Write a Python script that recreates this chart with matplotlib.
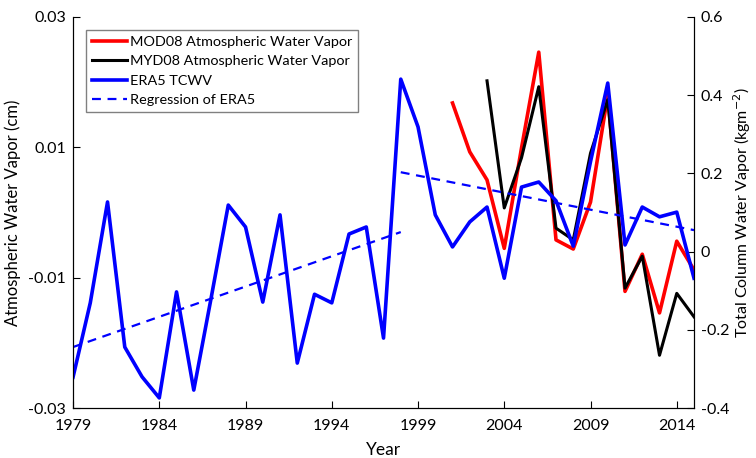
import matplotlib
matplotlib.use("Agg")
from matplotlib import pyplot as plt

plt.rcParams['font.family'] = ['Lato', 'DejaVu Sans']

# ERA5 TCWV anomaly (right axis)
era5_years = list(range(1979, 2016))
era5_vals = [-0.321, -0.131, 0.127, -0.244, -0.320, -0.374, -0.103, -0.354, -0.120, 0.119,
             0.063, -0.129, 0.094, -0.285, -0.109, -0.131, 0.045, 0.063, -0.221, 0.441,
             0.319, 0.094, 0.012, 0.076, 0.114, -0.068, 0.165, 0.178, 0.130, 0.014,
             0.230, 0.431, 0.017, 0.114, 0.089, 0.101, -0.068]

# regression segments of ERA5 (right axis)
reg1_years = [1979, 1998]
reg1_vals = [-0.244, 0.050]
reg2_years = [1998, 2015]
reg2_vals = [0.203, 0.055]

# MODIS (left axis, cm)
mod_years = list(range(2001, 2016))
mod_vals = [0.0168, 0.0093, 0.0050, -0.0055, 0.0099, 0.0246, -0.0042, -0.0056,
            0.0016, 0.0180, -0.0121, -0.0064, -0.0154, -0.0044, -0.0088]
myd_years = list(range(2003, 2016))
myd_vals = [0.0202, 0.0007, 0.0084, 0.0193, -0.0024, -0.0042, 0.0091, 0.0173,
            -0.0116, -0.0067, -0.0219, -0.0124, -0.0160]

xticks = [1979, 1984, 1989, 1994, 1999, 2004, 2009, 2014]

fig = plt.figure(figsize=(7.56, 4.58), dpi=100)
ax = fig.add_axes([0.0966, 0.109, 0.8214, 0.854])
ax2 = ax.twinx()

l1, = ax.plot(mod_years, mod_vals, color="red", lw=2.6, label="MOD08 Atmospheric Water Vapor")
l2, = ax.plot(myd_years, myd_vals, color="black", lw=2.2, label="MYD08 Atmospheric Water Vapor")
l3, = ax2.plot(era5_years, era5_vals, color="blue", lw=2.6, label="ERA5 TCWV")
l4, = ax2.plot(reg1_years, reg1_vals, color="blue", lw=1.6, ls=(0, (4, 3)), label="Regression of ERA5")
ax2.plot(reg2_years, reg2_vals, color="blue", lw=1.6, ls=(0, (4, 3)))

ax.set_xlim(1979, 2015)
ax.set_ylim(-0.03, 0.03)
ax.set_yticks([-0.03, -0.01, 0.01, 0.03])
ax.set_yticklabels(["-0.03", "-0.01", "0.01", "0.03"])
ax.set_xticks(xticks)
ax2.set_ylim(-0.4, 0.6)
ax2.set_yticks([-0.4, -0.2, 0, 0.2, 0.4, 0.6])
ax2.set_yticklabels(["-0.4", "-0.2", "0", "0.2", "0.4", "0.6"])

for a in (ax, ax2):
    a.spines['top'].set_visible(False)
    a.tick_params(direction="in", labelsize=11.5, length=5, pad=5)
ax.tick_params(axis="x", pad=8)

ax.set_xlabel("Year", fontsize=12.5, labelpad=6)
ax.set_ylabel("Atmospheric Water Vapor (cm)", fontsize=12, labelpad=5)
ax2.set_ylabel("Total Column Water Vapor (kgm$^{-2}$)", fontsize=11.5, labelpad=1)

leg = ax2.legend(handles=[l1, l2, l3, l4], loc="upper left", bbox_to_anchor=(0.010, 0.985),
                 fontsize=10.4, fancybox=False, edgecolor="gray", framealpha=1,
                 handlelength=2.4, handletextpad=0.2, borderpad=0.4, labelspacing=0.5)
leg.get_frame().set_linewidth(1.0)

fig.savefig("out.png", dpi=100)
